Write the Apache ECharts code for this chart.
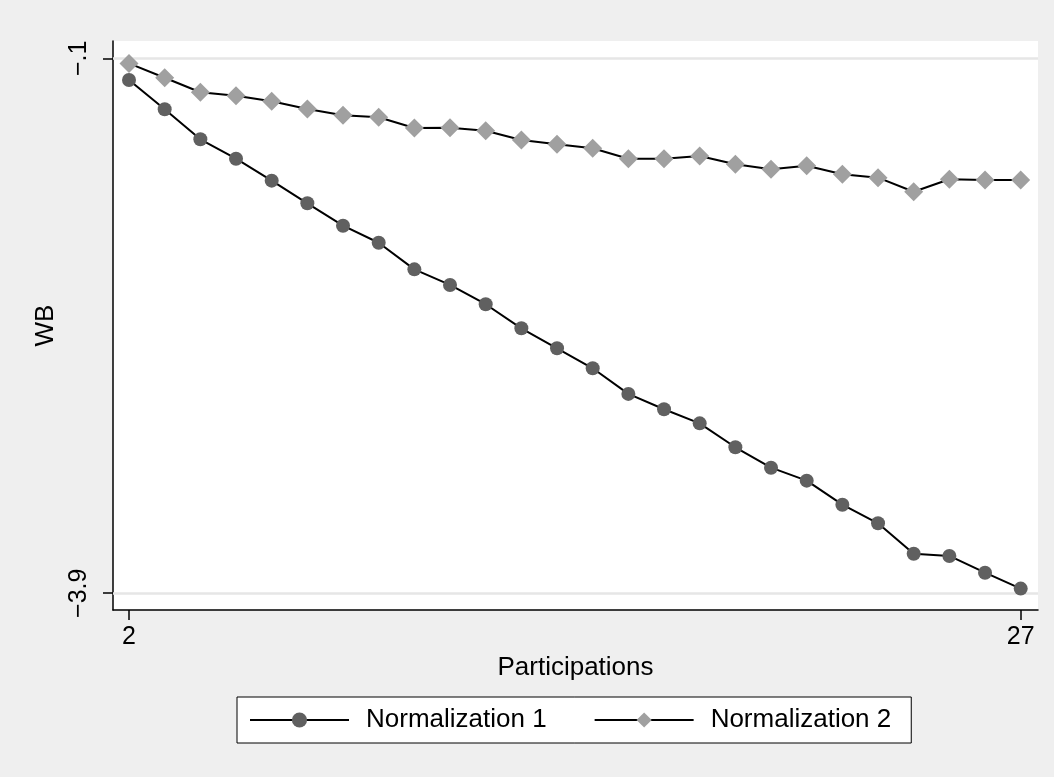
<!DOCTYPE html>
<html>
<head>
<meta charset="utf-8">
<script src="https://cdn.jsdelivr.net/npm/echarts@6/dist/echarts.min.js"></script>
<style>
html,body{margin:0;padding:0;background:#efefef;}
#chart{width:1054px;height:777px;}
</style>
</head>
<body>
<div id="chart"></div>
<script>
const participations = [2, 3, 4, 5, 6, 7, 8, 9, 10, 11, 12, 13, 14, 15, 16, 17, 18, 19, 20, 21, 22, 23, 24, 25, 26, 27];
const normalization1 = [-0.254, -0.462, -0.675, -0.813, -0.969, -1.130, -1.289, -1.410, -1.599, -1.710, -1.847, -2.018, -2.160,
  -2.302, -2.484, -2.593, -2.693, -2.863, -3.008, -3.100, -3.271, -3.403, -3.619, -3.635, -3.754, -3.867];
const normalization2 = [-0.136, -0.238, -0.341, -0.366, -0.405, -0.460, -0.505, -0.519, -0.595, -0.593, -0.614, -0.680, -0.711,
  -0.739, -0.813, -0.813, -0.794, -0.853, -0.888, -0.863, -0.924, -0.948, -1.048, -0.959, -0.964, -0.964];
const seriesNames = ['Normalization 1', 'Normalization 2'];
const xTickValues = [2, 27];
const xTickLabels = ['2', '27'];
const yTickValues = [-0.1, -3.9];
const yTickLabels = ['\u2212.1', '\u22123.9'];
const xAxisTitle = 'Participations';
const yAxisTitle = 'WB';

const FONT = '"Liberation Sans", Arial, sans-serif';
const pair = (xs, ys) => xs.map((x, i) => [x, ys[i]]);
const labelFor = (vals, labels) => (v) => {
  const i = vals.findIndex(t => Math.abs(t - v) < 1e-6);
  return i >= 0 ? labels[i] : '';
};

const chart = echarts.init(document.getElementById('chart'), null, {renderer: 'canvas'});
chart.setOption({
  animation: false,
  backgroundColor: '#efefef',
  textStyle: {fontFamily: FONT},
  grid: {
    left: 113, top: 41, right: 16, bottom: 167,
    show: true, backgroundColor: '#ffffff', borderWidth: 0,
    containLabel: false
  },
  legend: {
    data: seriesNames,
    left: 237, top: 697,
    orient: 'horizontal',
    backgroundColor: '#ffffff',
    borderColor: '#000000', borderWidth: 1,
    padding: [10, 20, 10, 12],
    itemWidth: 99, itemHeight: 19, itemGap: 47,
    textStyle: {fontFamily: FONT, fontSize: 26, color: '#000', padding: [0, 0, 0, 12]}
  },
  xAxis: {
    type: 'value',
    min: 1.551, max: 27.485,
    name: xAxisTitle,
    nameLocation: 'middle',
    nameGap: 40,
    nameTextStyle: {fontFamily: FONT, fontSize: 26, color: '#000'},
    axisLine: {show: true, onZero: false, lineStyle: {color: '#000', width: 1.5}},
    axisTick: {show: true, length: 10, inside: false, customValues: xTickValues, lineStyle: {color: '#000', width: 1.5}},
    axisLabel: {show: true, customValues: xTickValues, margin: 15, fontFamily: FONT, fontSize: 25, color: '#000',
      formatter: labelFor(xTickValues, xTickLabels)},
    splitLine: {show: false}
  },
  yAxis: {
    type: 'value',
    min: -4.019, max: 0.023,
    name: yAxisTitle,
    nameLocation: 'middle',
    nameRotate: 90,
    nameGap: 52,
    nameTextStyle: {fontFamily: FONT, fontSize: 26, color: '#000'},
    axisLine: {show: true, onZero: false, lineStyle: {color: '#000', width: 1.5}},
    axisTick: {show: true, length: 10, inside: false, customValues: yTickValues, lineStyle: {color: '#000', width: 1.5}},
    axisLabel: {show: true, customValues: yTickValues, rotate: 90, margin: 21, fontFamily: FONT, fontSize: 25, color: '#000',
      formatter: labelFor(yTickValues, yTickLabels)},
    splitLine: {show: false}
  },
  series: [
    {
      name: 'gridlines',
      type: 'line',
      data: [],
      z: 1,
      silent: true,
      markLine: {
        z: 1,
        silent: true,
        symbol: 'none',
        label: {show: false},
        lineStyle: {color: '#e6e6e6', width: 2.5, type: 'solid'},
        data: yTickValues.map(v => ({yAxis: v}))
      }
    },
    {
      name: seriesNames[0],
      type: 'line',
      z: 3,
      data: pair(participations, normalization1),
      symbol: 'circle',
      symbolSize: 14,
      showSymbol: true,
      lineStyle: {color: '#000', width: 2},
      itemStyle: {color: '#606060', borderWidth: 0}
    },
    {
      name: seriesNames[1],
      type: 'line',
      z: 3,
      data: pair(participations, normalization2),
      symbol: 'diamond',
      symbolSize: 19,
      showSymbol: true,
      lineStyle: {color: '#000', width: 2},
      itemStyle: {color: '#a0a0a0', borderWidth: 0}
    }
  ]
});
</script>
</body>
</html>
